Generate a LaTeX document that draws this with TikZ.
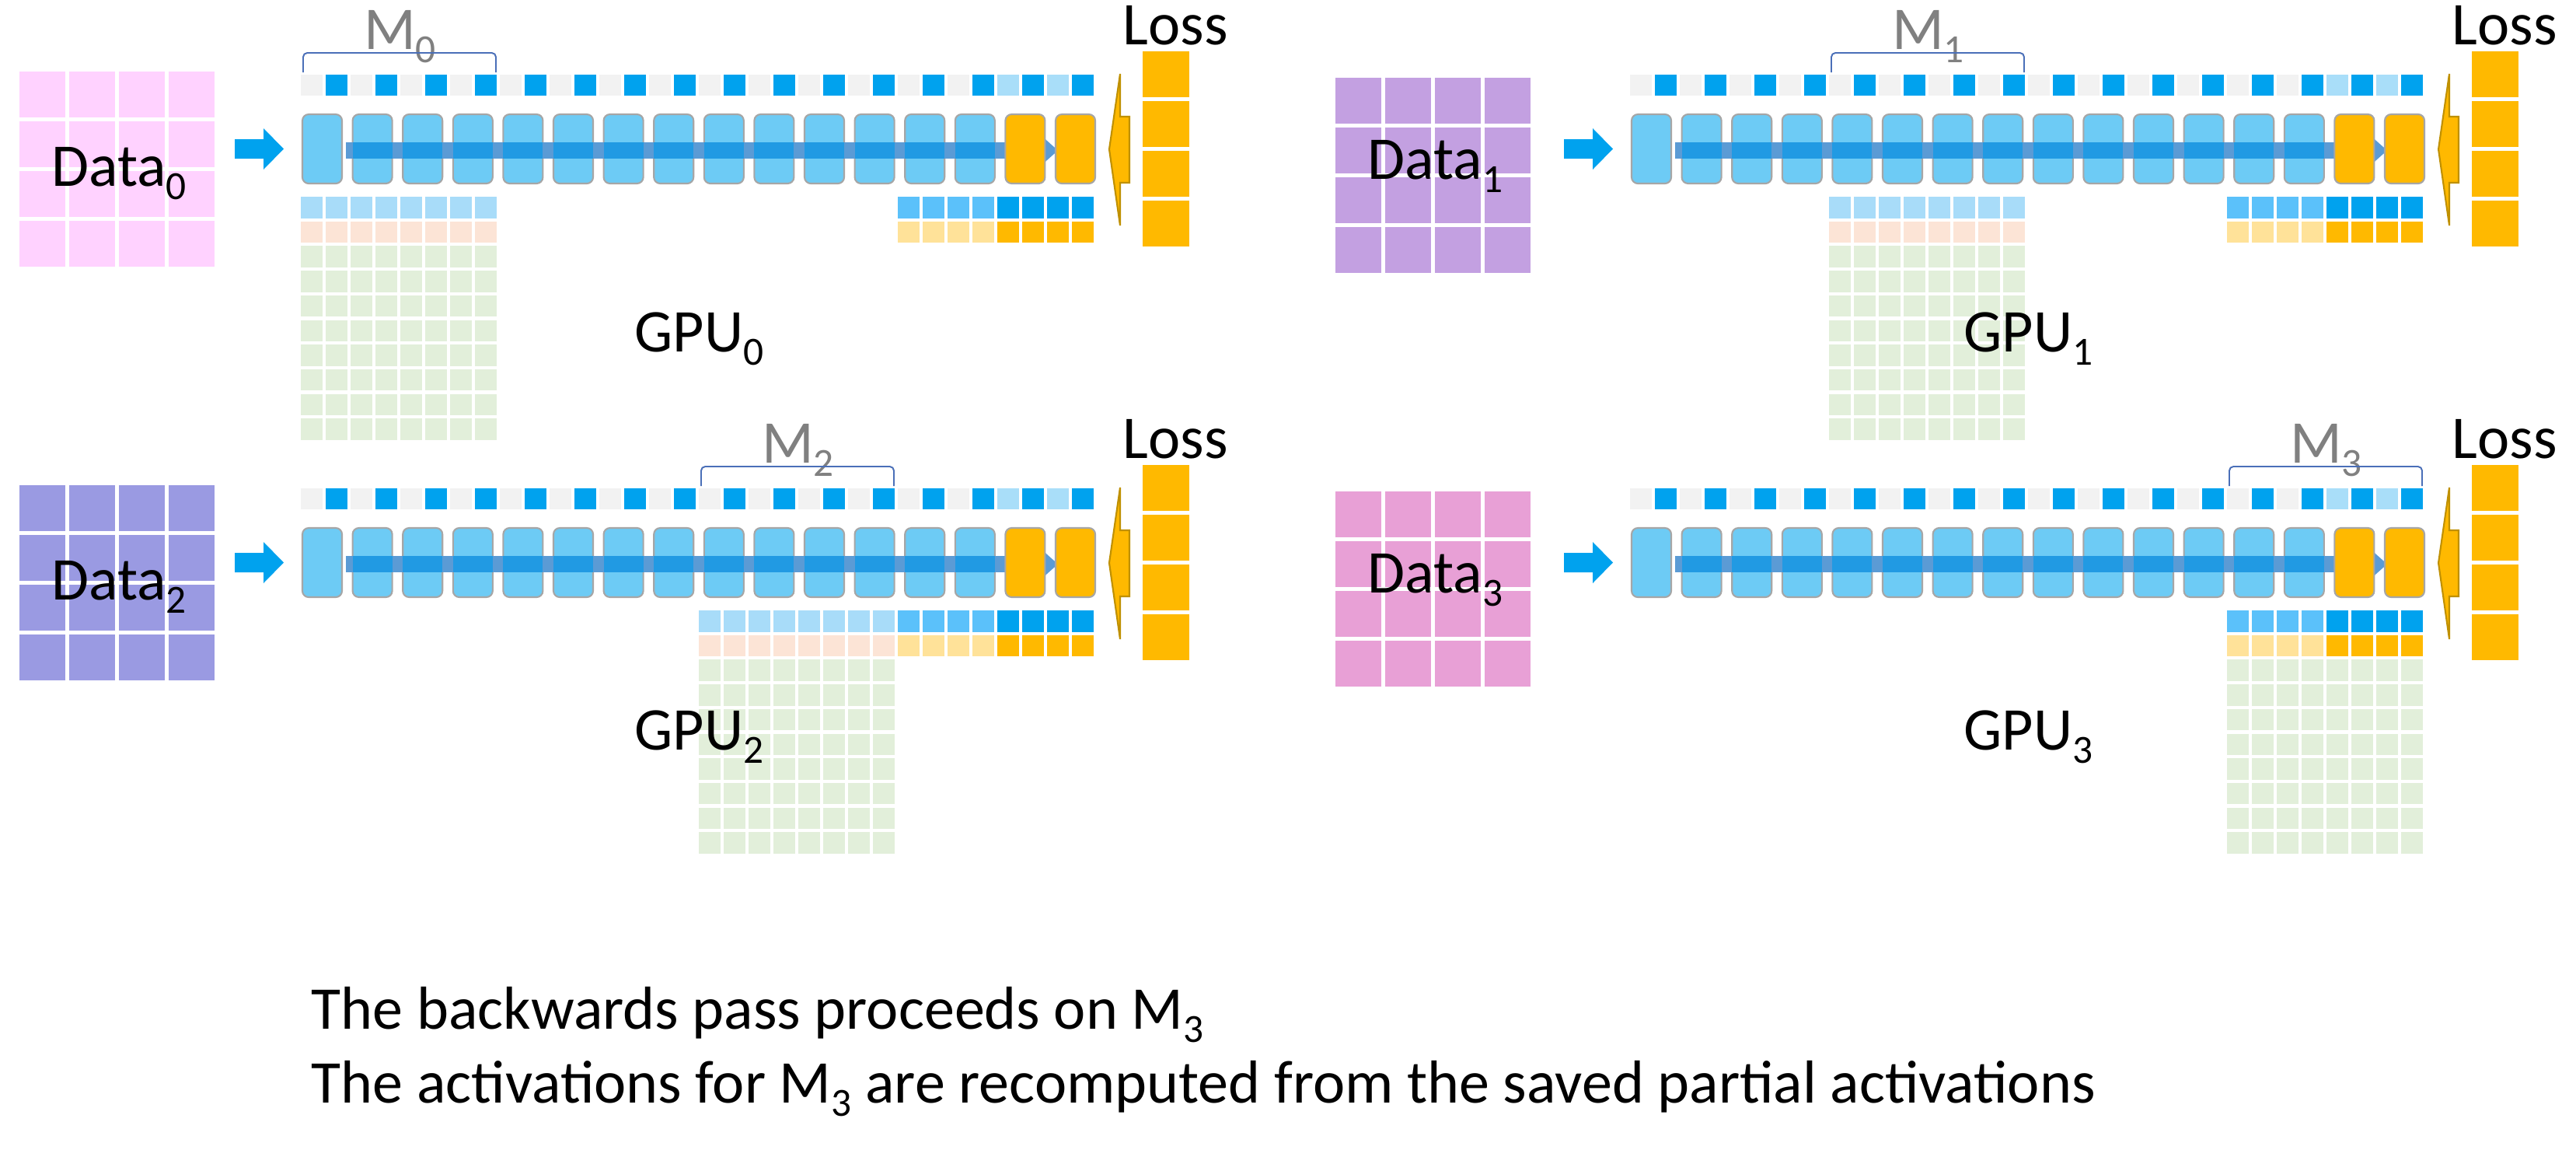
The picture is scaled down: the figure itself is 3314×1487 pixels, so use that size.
\documentclass[tikz,border=0pt]{standalone}
\usepackage{fontspec}
\setmainfont{Carlito}
\usepackage{graphicx}
\definecolor{cGray}{HTML}{F2F2F2}
\definecolor{cBlue}{HTML}{00A2EE}
\definecolor{cLtBlue}{HTML}{A9DEF9}
\definecolor{cBlock}{HTML}{6DCBF5}
\definecolor{cBlockEdge}{HTML}{A6A6A6}
\definecolor{cOrange}{HTML}{FFB900}
\definecolor{cBarLight}{HTML}{5B9BD5}
\definecolor{cBarDark}{HTML}{219AE3}
\definecolor{cArrow}{HTML}{00A2EE}
\definecolor{cMemLt}{HTML}{A8DCF9}
\definecolor{cPeach}{HTML}{FCE4D6}
\definecolor{cGreen}{HTML}{E2EFDA}
\definecolor{cMed}{HTML}{5BC1FA}
\definecolor{cLtYel}{HTML}{FFE299}
\definecolor{cBracket}{HTML}{4A6FB8}
\definecolor{cMgray}{HTML}{808080}
\definecolor{cLossEdge}{HTML}{BF9000}
\definecolor{cDataA}{HTML}{FFD2FF}
\definecolor{cDataB}{HTML}{C3A0E1}
\definecolor{cDataC}{HTML}{9A9AE2}
\definecolor{cDataD}{HTML}{E8A0D6}
\newcommand\sbs[1]{\raisebox{-0.22em}{\fontsize{14.6pt}{16pt}\selectfont #1}}
\tikzset{
  lbl/.style={font=\fontsize{22.2pt}{26pt}\selectfont, inner sep=0pt, text=black},
  mlbl/.style={lbl, text=cMgray},
  blk/.style={fill=cBlock, draw=cBlockEdge, line width=0.6pt, rounded corners=2.3pt},
  lossarrow/.style={fill=cOrange, draw=cLossEdge, line width=0.6pt, line join=miter},
  brk/.style={draw=cBracket, line width=0.55pt, rounded corners=1.5pt}
}
% #1 dx, #2 dy, #3 index, #4 data colour, #5 data text baseline offset,
% #6 memory start cell, #7 GPU baseline, #8 data grid top, #9 data grid left
\newcommand\gpupanel[9]{%
\begin{scope}[shift={(#1,#2)}]
  \foreach \i in {0,...,3}{\foreach \j in {0,...,3}{%
    \fill[#4] ({#9+64*\i},{#8+64*\j}) rectangle +(59,59);}}
  \node[lbl,anchor=base west] (data#3) at ({#9+41},{#8+#5}) {Data\sbs{#3}};
  \fill[cArrow] (302,179) -- (339,179) -- (339,165) -- (365,191.5) -- (339,218) -- (339,204) -- (302,204) -- cycle;
  % top row of parameter cells
  \foreach \i in {0,2,...,26}{\fill[cGray] ({387+32*\i},96) rectangle +(28,27);}
  \foreach \i in {1,3,...,31}{\fill[cBlue] ({387+32*\i},96) rectangle +(28,27);}
  \foreach \i in {28,30}{\fill[cLtBlue] ({387+32*\i},96) rectangle +(28,27);}
  % layers
  \foreach \j in {0,...,13}{\filldraw[blk] ({389+64.6*\j},147) rectangle +(51,89);}
  \fill[cBarLight] (445,183) rectangle (1345,204);
  \fill[cBarLight] (1338,173) -- (1361,193.5) -- (1338,214) -- cycle;
  \foreach \j in {1,...,13}{\fill[cBarDark] ({389+64.6*\j},183) rectangle +(51,21);}
  \foreach \j in {14,15}{\filldraw[blk,fill=cOrange] ({389+64.6*\j},147) rectangle +(51,89);}
  % memory
  \ifnum#6<24
    \foreach \i in {0,...,7}{%
      \fill[cMemLt] ({387+32*(#6+\i)},253) rectangle +(28,27.5);
      \fill[cPeach] ({387+32*(#6+\i)},284.7) rectangle +(28,27.5);}
  \fi
  \foreach \i in {24,...,27}{%
    \fill[cMed] ({387+32*\i},253) rectangle +(28,27.5);
    \fill[cLtYel] ({387+32*\i},284.7) rectangle +(28,27.5);}
  \foreach \i in {28,...,31}{%
    \fill[cBlue] ({387+32*\i},253) rectangle +(28,27.5);
    \fill[cOrange] ({387+32*\i},284.7) rectangle +(28,27.5);}
  \foreach \r in {2,...,9}{\foreach \i in {0,...,7}{%
    \fill[cGreen] ({387+32*(#6+\i)},{253+31.7*\r}) rectangle +(28,27.5);}}
  % bracket and label
  \node[mlbl,anchor=base] (m#3) at ({387+32*#6+127.5},63) {M\sbs{#3}};
  \draw[brk] ({387+32*#6+3},93) -- ({387+32*#6+3},68) -- ({387+32*#6+251},68) -- ({387+32*#6+251},93);
  % loss
  \filldraw[lossarrow] (1427,192) -- (1441,95) -- (1441,150) -- (1453,150) -- (1453,235) -- (1441,235) -- (1441,290) -- cycle;
  \foreach \k in {0,...,3}{\fill[cOrange] (1470,{66+64*\k}) rectangle +(60,59);}
  \node[lbl,anchor=base west] (loss#3) at (1444,57) {Loss};
  \node[lbl,anchor=base west] (gpu#3) at (816,#7) {GPU\sbs{#3}};
\end{scope}}
\begin{document}
\begin{tikzpicture}[x=0.01cm,y=-0.01cm]
\useasboundingbox (0,0) rectangle (3314,1487);
\fill[white] (0,0) rectangle (3314,1487);
\gpupanel{0}{0}{0}{cDataA}{147}{0}{452}{92}{25}
\gpupanel{1710}{0}{1}{cDataB}{130}{8}{452}{100}{8}
\gpupanel{0}{532}{2}{cDataC}{147}{16}{432}{92}{25}
\gpupanel{1710}{532}{3}{cDataD}{130}{24}{432}{100}{8}
\node[lbl,anchor=base west] (line1) at (400,1323) {The backwards pass proceeds on M\sbs{3}};
\node[lbl,anchor=base west] (line2) at (400,1418) {The activations for M\sbs{3} are recomputed from the saved partial activations};
\end{tikzpicture}
\end{document}
